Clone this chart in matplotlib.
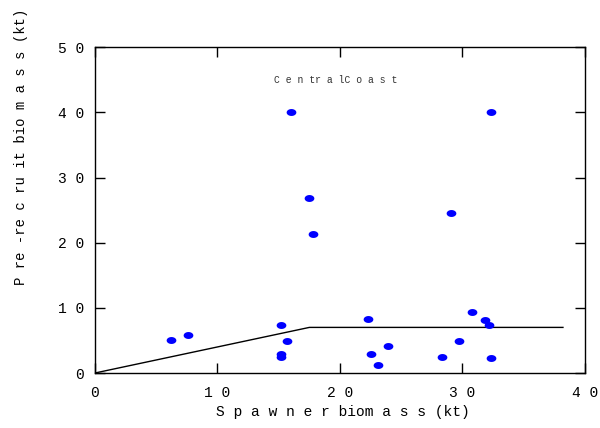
import numpy as np
import matplotlib
matplotlib.use("Agg")
import matplotlib.pyplot as plt
from matplotlib.path import Path

# Spawner biomass (kt) and pre-recruit biomass (kt) by year
spawner = [6.2, 7.6, 15.2, 15.7, 15.2, 15.2, 16.0, 17.5, 17.8, 22.3, 22.5,
           23.1, 23.9, 28.3, 29.1, 29.7, 30.8, 31.8, 32.2, 32.3, 32.3]
recruit = [5.1, 5.9, 7.3, 4.9, 2.9, 2.5, 40.0, 26.9, 21.4, 8.3, 2.9,
           1.2, 4.2, 2.5, 24.6, 4.9, 9.3, 8.1, 7.4, 2.3, 40.1]

# Hockey-stick stock-recruit relationship
hs_x = [0, 17.5, 38.2]
hs_y = [0, 7.0, 7.0]

xticks = [0, 10, 20, 30, 40]
xticklabels = ["0", "1 0", "2 0", "3 0", "4 0"]
yticks = [0, 10, 20, 30, 40, 50]
yticklabels = ["0", "1 0", "2 0", "3 0", "4 0", "5 0"]

region = "C e n tr a lC o a s t"
xlabel = "S p a w n e r biom a s s (kt)"
ylabel = "P re -re c ru it bio m a s s (kt)"

font = "Liberation Mono"
plt.rcParams["font.family"] = [font, "DejaVu Sans Mono"]

fig = plt.figure(figsize=(6.0, 4.28), dpi=100)
ax = fig.add_axes([0.1583, 0.1285, 0.8167, 0.761])

# flattened ellipse marker
t = np.linspace(0, 2 * np.pi, 40)
ell = Path(np.column_stack([1.4 * np.cos(t), np.sin(t)]), closed=True)

ax.plot(hs_x, hs_y, color="black", lw=1.0, zorder=2)
ax.plot(spawner, recruit, linestyle="none", marker=ell, markersize=7.0,
        color="#0000ff", markeredgewidth=0, zorder=3)

ax.set_xlim(0, 40)
ax.set_ylim(0, 50)
ax.set_xticks(xticks)
ax.set_xticklabels(xticklabels)
ax.set_yticks(yticks)
ax.set_yticklabels(yticklabels)
ax.tick_params(direction="in", length=7.5, width=1.0, labelsize=10.5,
               top=True, right=True, pad=8, colors="black")
ax.tick_params(axis="x", pad=9)
for s in ax.spines.values():
    s.set_linewidth(1.0)
    s.set_color("black")

ax.text(14.6, 45.0, region, fontsize=7.0, ha="left", va="center",
        color="#333333")

fig.text(0.571, 0.037, xlabel, fontsize=10.5, ha="center", va="center")
fig.text(0.035, 0.658, ylabel, fontsize=10.0, ha="center", va="center",
         rotation=90)

fig.savefig("out.png", dpi=100)
